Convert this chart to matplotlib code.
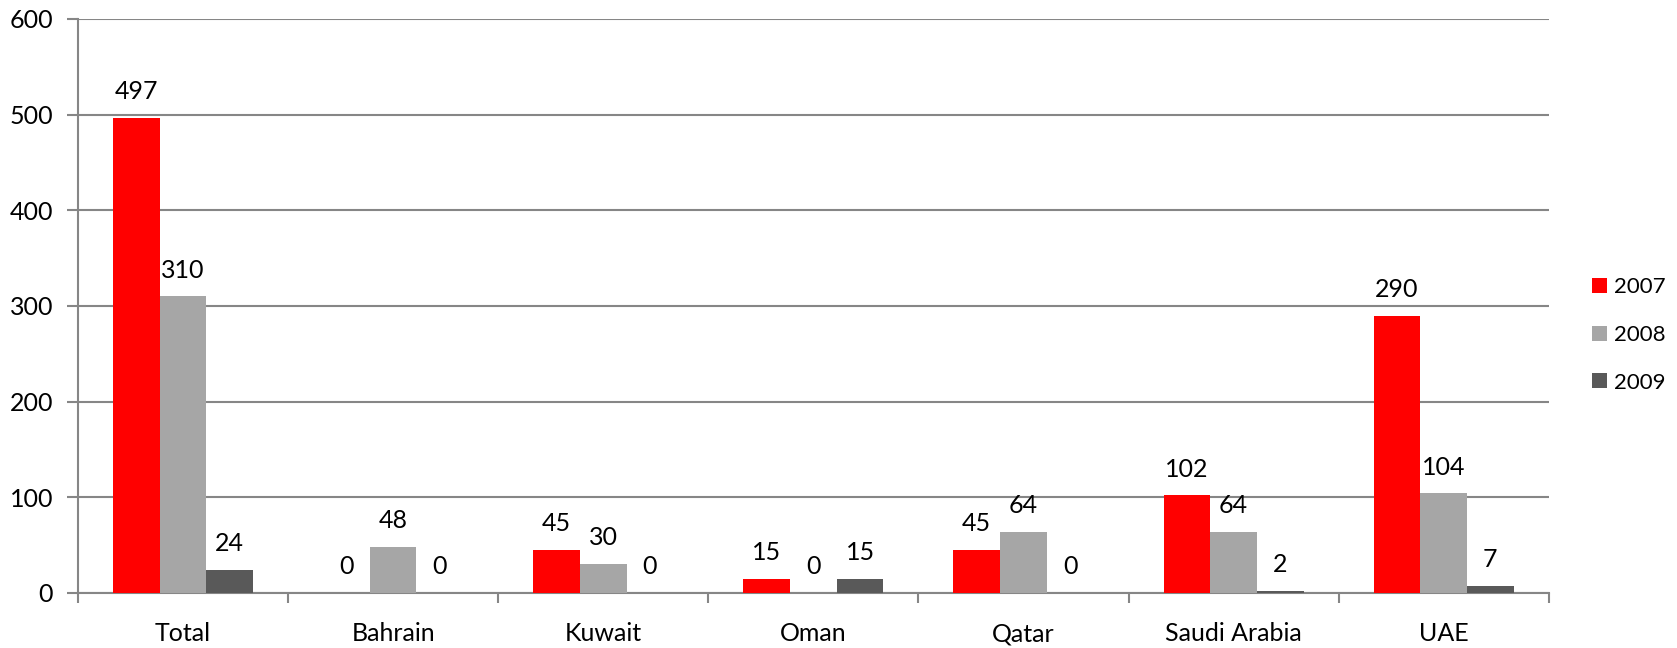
import matplotlib
matplotlib.use("Agg")
import matplotlib.pyplot as plt
import numpy as np

categories = ["Total", "Bahrain", "Kuwait", "Oman", "Qatar", "Saudi Arabia", "UAE"]
years = ["2007", "2008", "2009"]
values_2007 = [497, 0, 45, 15, 45, 102, 290]
values_2008 = [310, 48, 30, 0, 64, 64, 104]
values_2009 = [24, 0, 0, 15, 0, 2, 7]
y_ticks = [0, 100, 200, 300, 400, 500, 600]

series = [values_2007, values_2008, values_2009]
colors = ["#FF0000", "#A6A6A6", "#595959"]

plt.rcParams["font.family"] = ["Lato", "DejaVu Sans"]
FS = 18

fig = plt.figure(figsize=(16.77, 6.48), dpi=100)
ax = fig.add_axes([0.0465, 0.0849, 0.877, 0.8858])

x = np.arange(len(categories))
width = 2.0 / 9.0
grid_color = "#868686"

for i, (vals, col, yr) in enumerate(zip(series, colors, years)):
    pos = x + (i - 1) * width
    ax.bar(pos, vals, width=width, color=col, label=yr, zorder=3)
    for px, v in zip(pos, vals):
        ax.annotate(str(v), (px, v), xytext=(0, 19), textcoords="offset points",
                    ha="center", va="center", fontsize=FS, color="black")

ax.set_xlim(-0.5, len(categories) - 0.5)
ax.set_ylim(0, 600)
ax.set_yticks(y_ticks)
ax.set_yticklabels([str(t) for t in y_ticks], fontsize=FS)
ax.yaxis.grid(True, color=grid_color, linewidth=1.5, zorder=0)
ax.set_axisbelow(True)

# category labels centred, tick marks on category boundaries
ax.set_xticks(x)
ax.set_xticklabels(categories, fontsize=FS)
ax.tick_params(axis="x", which="major", length=0, pad=21)
ax.set_xticks(np.arange(-0.5, len(categories)), minor=True)
ax.tick_params(axis="x", which="minor", length=7, width=1.5, color=grid_color)
ax.tick_params(axis="y", length=8, width=1.5, color=grid_color, pad=10)

for side in ["top", "right"]:
    ax.spines[side].set_visible(False)
for side in ["left", "bottom"]:
    ax.spines[side].set_color(grid_color)
    ax.spines[side].set_linewidth(1.5)

leg = fig.legend(loc="center left", bbox_to_anchor=(0.9493, 0.483), frameon=False,
                 fontsize=16, handlelength=0.68, handleheight=0.68,
                 handletextpad=0.32, labelspacing=1.24,
                 borderpad=0, borderaxespad=0)

fig.savefig("out.png", dpi=100)
